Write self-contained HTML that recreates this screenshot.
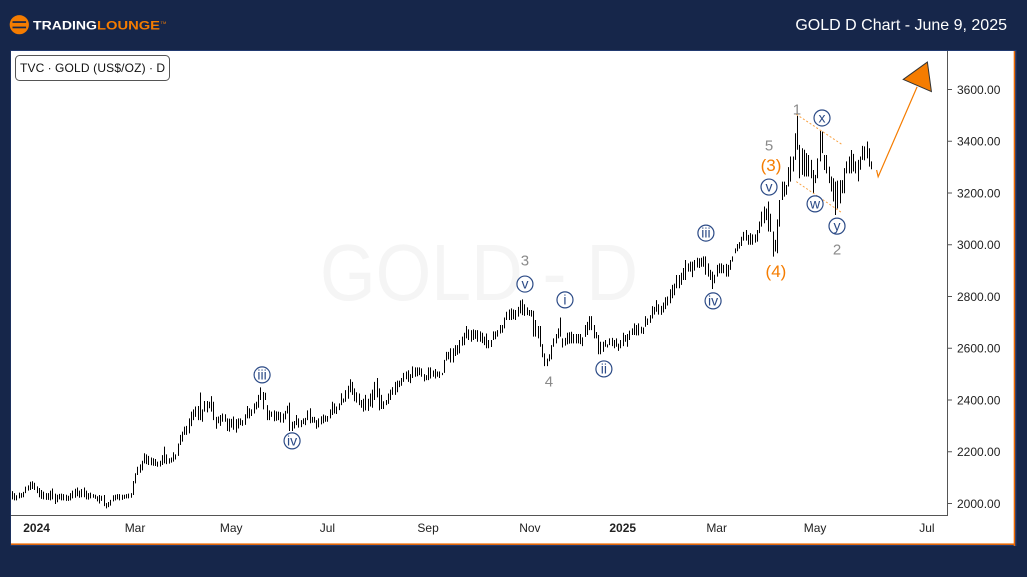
<!DOCTYPE html>
<html lang="en">
<head>
<meta charset="utf-8">
<title>GOLD D Chart - June 9, 2025</title>
<style>
html,body{margin:0;padding:0;background:#16264a;}
#stage{position:relative;width:1027px;height:577px;overflow:hidden;background:#16264a;font-family:"Liberation Sans",sans-serif;}
#chart{position:absolute;left:0;top:0;}
text{font-family:"Liberation Sans",sans-serif;}
</style>
</head>
<body>
<div id="stage">
<svg id="chart" width="1027" height="577" viewBox="0 0 1027 577" xmlns="http://www.w3.org/2000/svg">
  <g>
    <circle cx="19.3" cy="24.7" r="9.6" fill="#f57c00"/>
    <rect x="12.5" y="21.2" width="13.6" height="1.7" fill="#16264a"/>
    <rect x="12.5" y="26.6" width="13.6" height="1.7" fill="#16264a"/>
    <text x="33" y="29.4" font-size="12" font-weight="700" fill="#ffffff" textLength="64" lengthAdjust="spacingAndGlyphs">TRADING</text>
    <text x="97" y="29.4" font-size="12" font-weight="700" fill="#f57c00" textLength="63" lengthAdjust="spacingAndGlyphs">LOUNGE</text>
    <text x="160.5" y="24" font-size="4" fill="#f57c00">TM</text>
  </g>
  <text x="1007" y="30" font-size="16" fill="#ffffff" text-anchor="end">GOLD D Chart - June 9, 2025</text>

  <rect x="10.5" y="50" width="1006" height="496" fill="#223a70"/>
  <rect x="11" y="51" width="1003" height="493" fill="#ffffff"/>
  <rect x="11" y="543.4" width="1004" height="1.5" fill="#f06a00"/>
  <rect x="1013.7" y="51" width="1.5" height="495" fill="#f06a00"/>

  <text x="320" y="300" font-size="80" fill="#f5f5f5" textLength="318" lengthAdjust="spacingAndGlyphs">GOLD - D</text>

  <g id="bars"></g>
  <g id="yaxis"></g>
  <g id="xaxis"></g>
  <g id="overlays"></g>

  <g>
    <rect x="15.5" y="55.5" width="154" height="25" rx="4" fill="#ffffff" stroke="#555555"/>
    <text x="20" y="72" font-size="12" fill="#111111" textLength="145" lengthAdjust="spacing">TVC ∙ GOLD (US$/OZ) ∙ D</text>
  </g>
</svg>
</div>
<script>
var highs = [
2048,2040,2032,2042,2040,2045,2065,2070,2084,2086,
2080,2066,2060,2052,2046,2040,2040,2050,2058,2038,
2034,2037,2038,2036,2034,2030,2040,2050,2057,2062,
2050,2056,2062,2050,2040,2042,2036,2034,2028,2033,
2030,2033,2002,2006,2014,2032,2034,2036,2036,2034,
2034,2036,2038,2040,2087,2117,2142,2151,2165,2194,
2190,2184,2178,2175,2172,2162,2165,2187,2220,2190,
2175,2178,2198,2190,2232,2265,2278,2297,2300,2329,
2355,2364,2375,2377,2429,2364,2396,2396,2393,2415,
2393,2335,2336,2342,2348,2345,2329,2328,2327,2336,
2326,2329,2329,2322,2345,2377,2368,2364,2387,2393,
2420,2449,2431,2428,2380,2360,2355,2360,2356,2355,
2353,2348,2358,2378,2390,2316,2319,2342,2329,2322,
2329,2331,2360,2368,2335,2335,2322,2329,2337,2344,
2340,2338,2364,2393,2387,2375,2387,2426,2406,2438,
2455,2480,2470,2445,2430,2425,2400,2405,2420,2405,
2425,2440,2470,2485,2445,2420,2395,2400,2425,2440,
2450,2470,2475,2475,2485,2505,2510,2515,2500,2530,
2526,2526,2526,2522,2500,2496,2526,2526,2514,2520,
2510,2510,2505,2555,2586,2586,2600,2600,2612,2612,
2632,2645,2660,2686,2673,2670,2673,2670,2670,2665,
2660,2645,2657,2632,2632,2665,2665,2670,2690,2690,
2719,2741,2750,2754,2750,2748,2760,2785,2789,2770,
2758,2748,2748,2745,2709,2686,2686,2616,2580,2560,
2577,2612,2638,2655,2677,2719,2638,2640,2660,2662,
2664,2655,2655,2655,2655,2642,2690,2702,2724,2724,
2690,2663,2651,2625,2625,2632,2615,2638,2640,2632,
2638,2618,2632,2660,2651,2655,2668,2677,2696,2690,
2696,2683,2680,2724,2715,2728,2763,2760,2786,2770,
2764,2777,2797,2800,2828,2845,2850,2883,2883,2892,
2910,2941,2928,2935,2935,2941,2950,2948,2950,2955,
2955,2928,2903,2896,2884,2922,2928,2928,2922,2926,
2922,2941,2955,2986,3003,3010,3031,3050,3057,3038,
3045,3040,3040,3057,3090,3128,3148,3140,3167,3120,
3051,3019,3098,3173,3244,3244,3231,3300,3341,3341,
3431,3498,3386,3373,3367,3354,3347,3328,3289,3270,
3334,3440,3437,3347,3347,3302,3264,3257,3244,3248,
3250,3250,3296,3322,3341,3366,3351,3322,3328,3341,
3382,3380,3399,3373,3322
];
var lows = [
2016,2012,2012,2020,2022,2024,2040,2050,2052,2056,
2052,2040,2024,2018,2016,2014,2014,2012,2016,1998,
2005,2016,2012,2012,2010,2010,2012,2020,2022,2028,
2022,2024,2024,2016,2015,2020,2022,2018,2008,2000,
2010,1990,1981,1986,1992,2008,2012,2016,2012,2014,
2018,2020,2020,2022,2033,2078,2110,2119,2128,2155,
2152,2149,2148,2146,2145,2142,2143,2149,2155,2152,
2154,2158,2162,2170,2184,2226,2239,2265,2265,2271,
2299,2322,2335,2322,2322,2316,2355,2352,2368,2355,
2322,2289,2310,2300,2316,2316,2280,2278,2293,2285,
2274,2290,2303,2300,2304,2329,2329,2338,2348,2364,
2370,2400,2364,2400,2322,2322,2335,2318,2320,2322,
2313,2312,2325,2348,2280,2280,2290,2303,2293,2295,
2307,2303,2322,2310,2312,2312,2289,2294,2306,2310,
2316,2316,2329,2342,2348,2346,2361,2380,2390,2393,
2405,2430,2420,2395,2390,2380,2370,2355,2360,2358,
2375,2370,2400,2410,2360,2365,2365,2380,2385,2400,
2420,2420,2430,2450,2455,2470,2480,2470,2465,2485,
2490,2492,2496,2490,2472,2477,2477,2483,2490,2483,
2490,2485,2496,2505,2552,2557,2545,2545,2570,2575,
2580,2610,2612,2638,2632,2625,2632,2636,2625,2625,
2620,2612,2600,2600,2605,2632,2635,2645,2657,2660,
2677,2709,2709,2709,2712,2709,2722,2735,2728,2725,
2728,2725,2722,2645,2645,2638,2606,2565,2531,2531,
2550,2557,2606,2619,2638,2645,2603,2610,2615,2618,
2619,2619,2619,2619,2616,2608,2644,2651,2670,2670,
2638,2638,2577,2577,2586,2606,2603,2612,2608,2600,
2606,2590,2600,2608,2625,2606,2632,2651,2651,2650,
2650,2657,2655,2683,2690,2698,2715,2730,2741,2730,
2729,2738,2751,2765,2774,2793,2805,2832,2832,2845,
2864,2864,2896,2896,2875,2900,2912,2910,2915,2915,
2884,2877,2864,2829,2851,2877,2890,2890,2890,2877,
2877,2903,2935,2967,2975,2985,2995,3016,3016,3000,
3000,3000,3008,3012,3045,3070,3083,3095,3051,3050,
2954,2974,2967,3070,3173,3186,3193,3225,3244,3283,
3328,3367,3257,3270,3264,3264,3264,3257,3199,3238,
3257,3322,3354,3289,3276,3238,3206,3167,3115,3140,
3160,3199,3199,3276,3276,3276,3283,3276,3245,3290,
3328,3326,3334,3302,3292
];
var priceTicks = [2000,2200,2400,2600,2800,3000,3200,3400,3600];
var timeLabels = ["2024","Mar","May","Jul","Sep","Nov","2025","Mar","May","Jul"];
var timeBarIndex = [11,55,98,141,186,231.5,273,315,359,409];
var yearLabels = ["2024","2025"];

var circleWaveLabels = ["iii","iv","v","i","ii","iii","iv","v","w","x","y"];
var circleWaveBars = [111.8,125.2,229.3,247.2,264.6,310.2,313.4,338.4,359,362.1,368.8];
var circleWavePrices = [2497,2242,2848,2787,2520,3045,2783,3223,3158,3490,3072];

var grayWaveLabels = ["3","4","5","1","2"];
var grayWaveBars = [229.3,240,338.4,350.9,368.8];
var grayWavePrices = [2941,2473,3386,3525,2984];

var orangeWaveLabels = ["(3)","(4)"];
var orangeWaveBars = [339.3,341.5];
var orangeWavePrices = [3308,2899];

var upperChannelBars = [350.6,371.3];
var upperChannelPrices = [3504,3386];
var lowerChannelBars = [350.6,371.3];
var lowerChannelPrices = [3244,3122];

var forecastBars = [386.5,387.2,404.6];
var forecastPrices = [3289,3263,3610];
var arrowBars = [398.4,409.2,411];
var arrowPrices = [3639,3706,3592];

var SVGNS = "http://www.w3.org/2000/svg";
function xScale(i){ return 12 + i * 2.237; }
function yScale(p){ return 503.5 - (p - 2000) * 0.25875; }
function make(tag, attrs, parent, txt){
  var el = document.createElementNS(SVGNS, tag);
  for (var k in attrs) { el.setAttribute(k, attrs[k]); }
  if (txt !== undefined) { el.textContent = txt; }
  parent.appendChild(el);
  return el;
}

var barsG = document.getElementById("bars");
for (var b = 0; b < highs.length; b++) {
  var barX = Math.round(xScale(b)) + 0.5;
  var bar = make("line", {x1: barX, x2: barX, y1: yScale(highs[b]), y2: yScale(lows[b]), stroke: "#000000", "stroke-width": 1}, barsG);
  
  
}

var yG = document.getElementById("yaxis");
var yLine = make("line", {x1: 947.5, x2: 947.5, y1: 51, y2: 515.5, stroke: "#555555", "stroke-width": 1}, yG);


priceTicks.forEach(function(p){
  var yy = yScale(p);
  var tick = make("line", {x1: 948, x2: 952, y1: yy, y2: yy, stroke: "#555555", "stroke-width": 1}, yG);
  
  
  var lab = make("text", {x: 957, y: yy + 4.3, "font-size": 12, fill: "#222222"}, yG, p.toFixed(2));
  
  
});

var xG = document.getElementById("xaxis");
var xLine = make("line", {x1: 11, x2: 948, y1: 515.5, y2: 515.5, stroke: "#555555", "stroke-width": 1}, xG);


timeLabels.forEach(function(t, n){
  var isYear = yearLabels.indexOf(t) >= 0;
  var lab = make("text", {x: xScale(timeBarIndex[n]), y: 532, "font-size": 12, fill: "#222222", "text-anchor": "middle", "font-weight": isYear ? 700 : 400}, xG, t);
  
  
});

var oG = document.getElementById("overlays");
function pts(bs, ps){ return bs.map(function(v, i){ return xScale(v) + "," + yScale(ps[i]); }).join(" "); }

var chanU = make("polyline", {points: pts(upperChannelBars, upperChannelPrices), fill: "none", stroke: "#f9a03f", "stroke-width": 1, "stroke-dasharray": "2 2"}, oG);


var chanL = make("polyline", {points: pts(lowerChannelBars, lowerChannelPrices), fill: "none", stroke: "#f9a03f", "stroke-width": 1, "stroke-dasharray": "2 2"}, oG);



var fc = make("polyline", {points: pts(forecastBars, forecastPrices), fill: "none", stroke: "#f57c00", "stroke-width": 1.2}, oG);


var arrow = make("polygon", {points: pts(arrowBars, arrowPrices), fill: "#f57c00", stroke: "#333333", "stroke-width": 1}, oG);



circleWaveLabels.forEach(function(t, n){
  var cx = xScale(circleWaveBars[n]);
  var cy = yScale(circleWavePrices[n]);
  var c = make("circle", {cx: cx, cy: cy, r: 8, fill: "#ffffff", stroke: "#2b4a86", "stroke-width": 1.2}, oG);
  
  
  var lab = make("text", {x: cx, y: cy + 4.6, "font-size": 14, fill: "#2b4a86", "text-anchor": "middle"}, oG, t);
  
  
});
grayWaveLabels.forEach(function(t, n){
  var lab = make("text", {x: xScale(grayWaveBars[n]), y: yScale(grayWavePrices[n]) + 5.5, "font-size": 15, fill: "#8a8a8a", "text-anchor": "middle"}, oG, t);
  
  
});
orangeWaveLabels.forEach(function(t, n){
  var lab = make("text", {x: xScale(orangeWaveBars[n]), y: yScale(orangeWavePrices[n]) + 6, "font-size": 17, fill: "#f57c00", "text-anchor": "middle"}, oG, t);
  
  
});
</script>
</body>
</html>
